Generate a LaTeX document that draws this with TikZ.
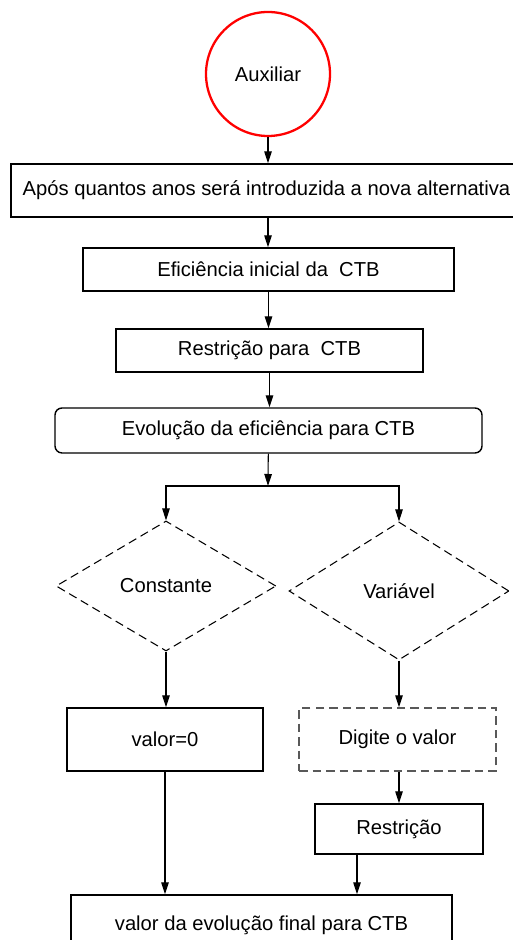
\documentclass[tikz,border=0pt]{standalone}
\usepackage{fontspec}
\setmainfont{Liberation Sans}
\usepackage{xcolor}
\usepackage{tikz}
\usetikzlibrary{arrows.meta,shapes.geometric}

\begin{document}
\begin{tikzpicture}[>={Triangle[length=0.24cm,width=0.15cm]},
    font=\fontsize{11.5}{13.8}\selectfont,
    flow/.style={->, line width=0.6pt},
    stepbox/.style={draw, line width=0.8pt, align=center,
                    inner sep=2pt},
    choice/.style={draw, diamond, dashed, line width=0.6pt,
                   dash pattern=on 0.17cm off 0.1cm, inner sep=0pt}]
  \useasboundingbox (0,0) rectangle (10.26,18.8);
  \node[draw=red, line width=1.3pt, circle, minimum size=2.48cm] (aux) at (5.36,17.32) {Auxiliar};
  \node[stepbox, minimum width=10.22cm, minimum height=1.06cm] (anos)  at (5.33,14.99) {Após quantos anos será introduzida a nova alternativa};
  \node[stepbox, minimum width=7.42cm, minimum height=0.86cm]  (efic)  at (5.37,13.41) {Eficiência inicial da \ CTB};
  \node[stepbox, minimum width=6.14cm, minimum height=0.86cm]  (restr) at (5.39,11.79) {Restrição para \ CTB};
  \node[stepbox, rounded corners=4pt, minimum width=8.54cm,
        minimum height=0.9cm] (evol) at (5.37,10.19) {Evolução da eficiência para CTB};
  \coordinate (split) at (5.36,9.08);
  \node[choice, minimum width=4.4cm, minimum height=2.6cm]  (const) at (3.32,7.08) {Constante};
  \node[choice, minimum width=4.4cm, minimum height=2.76cm] (var)   at (7.98,6.98) {Variável};
  \node[stepbox, minimum width=3.92cm, minimum height=1.26cm] (zero)  at (3.30,4.01) {valor=0};
  \node[stepbox, draw=black!65, dashed, dash pattern=on 0.17cm off 0.1cm,
        minimum width=3.94cm, minimum height=1.26cm] (digite) at (7.95,4.01) {Digite o valor};
  \node[stepbox, minimum width=3.36cm, minimum height=1.0cm]  (rlim)  at (7.98,2.22) {Restrição};
  \node[stepbox, minimum width=7.62cm, minimum height=1.2cm]  (final) at (5.23,0.30) {valor da evolução final para CTB};
  \draw[flow] (aux)   -- (aux |- anos.north);
  \draw[flow] (aux |- anos.south) -- (aux |- efic.north);
  \draw[flow, line width=0.8pt] (efic)  -- (efic |- restr.north);
  \draw[flow, line width=0.8pt] (restr) -- (restr |- evol.north);
  \draw[flow] (evol)  -- (split);
  \draw[flow] (split) -| (const.north);
  \draw[flow] (split) -| (var.north);
  \draw[flow] (const) -- (const |- zero.north);
  \draw[flow] (var)   -- (var |- digite.north);
  \draw[flow] (var |- digite.south) -- (rlim);
  \draw[flow] (zero)  -- (zero |- final.north);
  \draw[flow] ([xshift=-0.84cm]rlim.south) -- ([xshift=-0.84cm]rlim.south |- final.north);
\end{tikzpicture}
\end{document}
